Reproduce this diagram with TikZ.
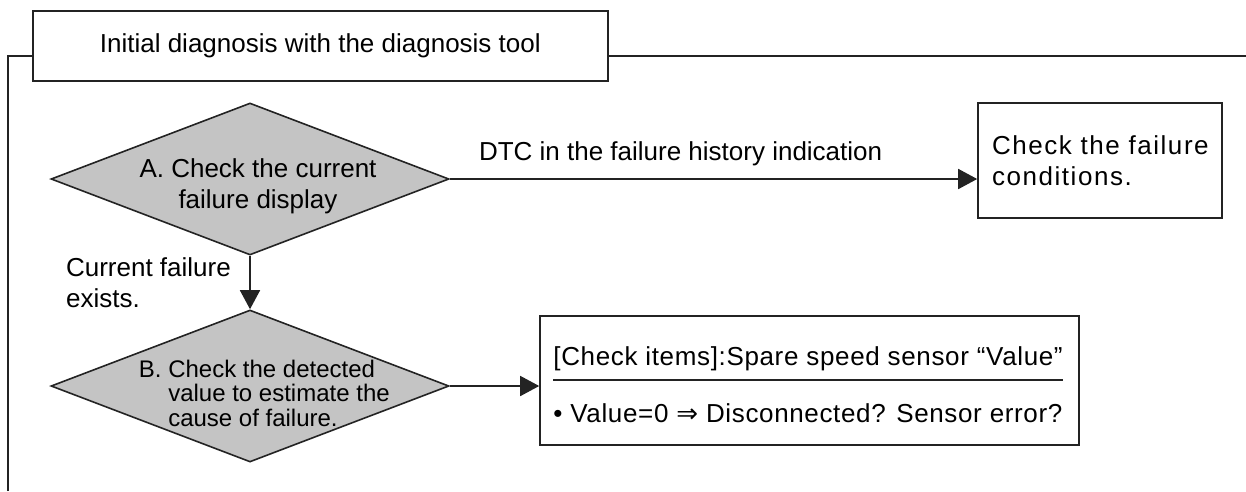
\documentclass[tikz,border=0pt]{standalone}
\usepackage{fontspec}
\setmainfont{Liberation Sans}
\newfontfamily\widefont[LetterSpace=6]{Liberation Sans}
\newfontfamily\spacedfont[LetterSpace=2.5]{Liberation Sans}
\newfontfamily\symfont{DejaVu Sans}
\usetikzlibrary{arrows.meta,positioning,calc,shapes.geometric}
\definecolor{ink}{RGB}{35,35,35}
\definecolor{shade}{RGB}{196,196,196}

\begin{document}
\begin{tikzpicture}[
    x=1pt,y=-1pt,
    >={Triangle[length=19pt,width=20pt]},
    text=black,
    every node/.style={font=\fontsize{26}{31}\selectfont},
    box/.style={
        draw=ink,
        fill=white,
        line width=1.6pt,
        inner sep=0pt
    },
    decision/.style={
        diamond,
        draw=ink,
        fill=shade,
        line width=1.6pt,
        inner sep=0pt,
        minimum width=398pt,
        minimum height=152pt
    },
    lbl/.style={inner sep=0pt, align=left},
    smalllbl/.style={inner sep=0pt, align=left, font=\fontsize{24}{24.5}\selectfont},
    arr/.style={->, line width=1.6pt, draw=ink},
    frame/.style={line width=1.6pt, draw=ink}
]
\useasboundingbox (0,0) rectangle (1246,491);

% Title and frame
\node[box, minimum width=575pt, minimum height=70pt, anchor=north west] (title) at (32,10) {Initial diagnosis with the diagnosis tool};
\draw[frame] (8,491) |- (title.west |- 0,56);
\draw[frame] (title.east |- 0,56) -- (1246,56);

% Decision A
\node[decision] (chkA) at (250,179) {};
\node[lbl, align=center] (txtA) at ($(chkA.center)+(8,7)$) {A. Check the current\\failure display};

% Decision B
\node[decision] (chkB) at (250,386) {};
\node[smalllbl] (txtB) at ($(chkB.center)+(29,7)$) {\makebox[0pt][r]{B.\ }Check the detected\\value to estimate the\\cause of failure.};

% Failure conditions box
\node[box, minimum height=115pt, text width=216pt, inner xsep=14pt, align=left, font=\fontsize{26}{31}\widefont] (cond) at (1100,160.5) {Check the failure\\conditions.};

% Check items box
\node[box, minimum width=539pt, minimum height=129pt] (items) at (809.5,380.5) {};
\node[lbl, anchor=west, font=\fontsize{26}{31}\spacedfont] (spec) at ($(items.west)+(14,-22)$) {[Check items]:Spare speed sensor “Value”};
\node[lbl, anchor=west, font=\fontsize{26}{31}\spacedfont] (val) at ($(items.west)+(14,33)$) {• Value=0 {\symfont ⇒} Disconnected? Sensor error?};
\draw[frame] (spec.west |- 0,380) -- (spec.east |- 0,380);

% Connectors
\draw[arr] (chkA.east) -- (chkA.east -| cond.west);
\node[lbl, anchor=west] (dtc) at ($(chkA.east)+(29,-25)$) {DTC in the failure history indication};

\draw[arr] (chkA.south) -- (chkB.north);
\coordinate (mid) at ($(chkA.south)!0.5!(chkB.north)$);
\node[lbl, left=19pt of mid] (cur) {Current failure\\exists.};

\draw[arr] (chkB.east) -- (chkB.east -| items.west);

\end{tikzpicture}
\end{document}
